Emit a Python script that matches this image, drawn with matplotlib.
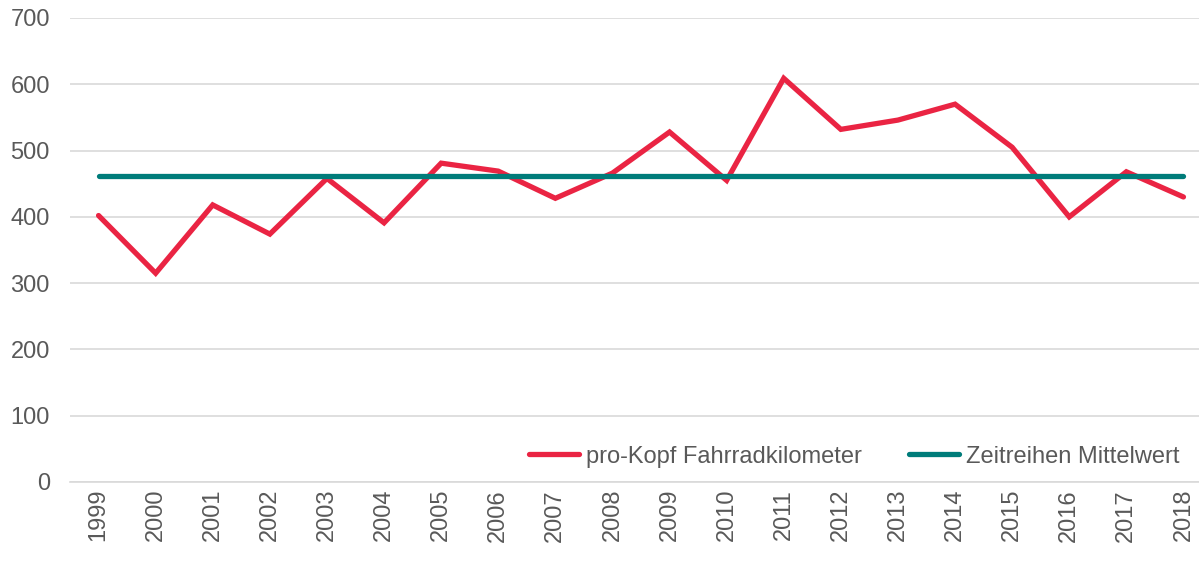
import matplotlib.pyplot as plt

# Daten
jahre = [str(j) for j in range(1999, 2019)]
fahrradkm = [402, 315, 418, 374, 458, 391, 481, 469, 428, 466,
             528, 455, 609, 532, 546, 570, 505, 400, 468, 430]
mittelwert = [462] * len(jahre)

plt.rcParams['font.family'] = ['Liberation Sans', 'DejaVu Sans']

fig = plt.figure(figsize=(11.99, 5.76), dpi=100)
ax = fig.add_axes([70 / 1199, 94 / 576, (1212 - 70) / 1199, 464 / 576])

x = range(len(jahre))
ax.plot(x, fahrradkm, color='#EA2443', lw=3.8, solid_capstyle='round',
        solid_joinstyle='miter', label='pro-Kopf Fahrradkilometer')
ax.plot(x, mittelwert, color='#007C7A', lw=3.8, solid_capstyle='round',
        label='Zeitreihen Mittelwert')

ax.set_xlim(-0.5, len(jahre) - 0.5)
ax.set_ylim(0, 700)
ax.set_yticks(range(0, 701, 100))
ax.set_xticks(list(x))
ax.set_xticklabels(jahre, rotation=90)
ax.tick_params(axis='both', length=0, labelsize=17, colors='#595959')
ax.tick_params(axis='x', pad=5)
ax.tick_params(axis='y', pad=14.5)

ax.grid(axis='y', color='#D9D9D9', lw=1.2)
ax.set_axisbelow(True)
for s in ['top', 'right', 'left']:
    ax.spines[s].set_visible(False)
ax.spines['bottom'].set_color('#D9D9D9')
ax.spines['bottom'].set_linewidth(1.2)

leg = ax.legend(loc='lower right', ncol=2, frameon=False, fontsize=17,
                handlelength=2.1, handletextpad=0.3, columnspacing=2.0,
                bbox_to_anchor=(0.99, -0.015))
for t in leg.get_texts():
    t.set_color('#595959')

fig.savefig('out.png', dpi=100)
